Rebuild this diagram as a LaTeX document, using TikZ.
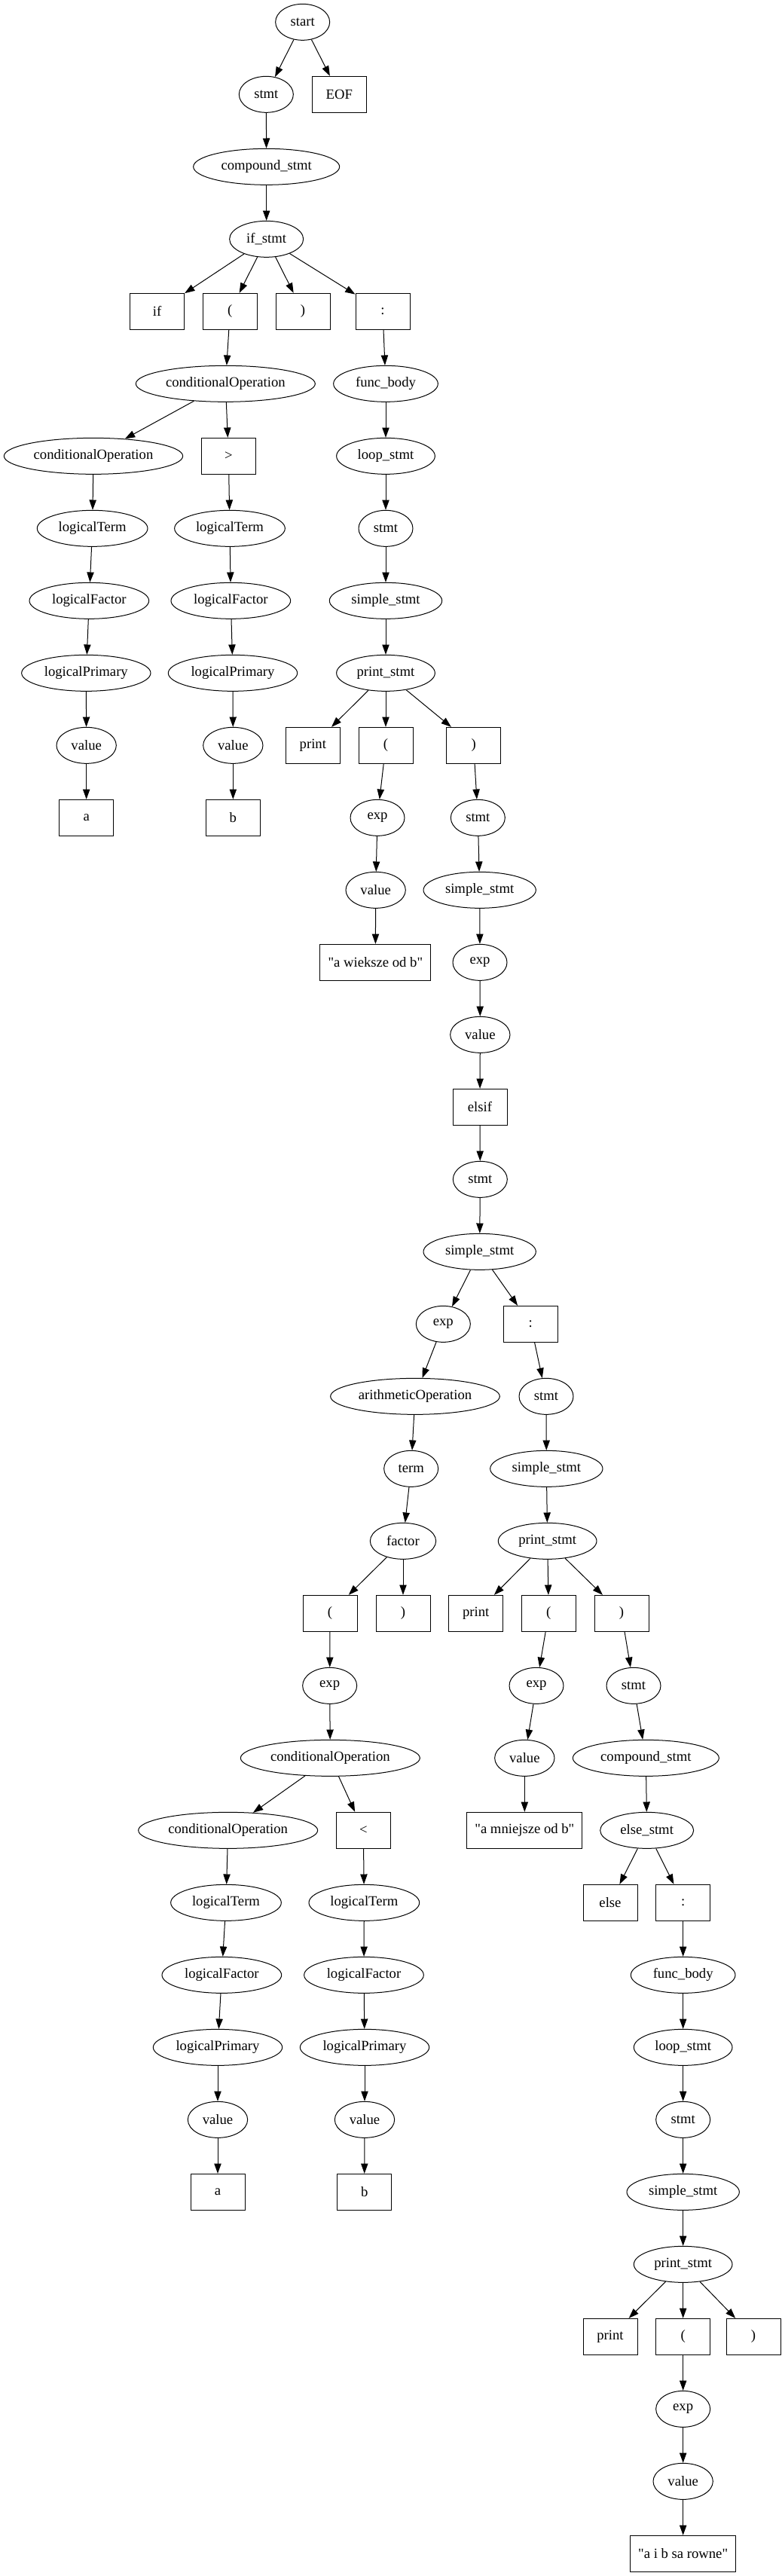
\documentclass[tikz,border=0pt]{standalone}
\usepackage{fontspec}
\setmainfont{Liberation Serif}[Ligatures=TeXOff]
\usetikzlibrary{shapes.geometric,arrows.meta}
\newcommand\gvfont{\fontsize{14}{16}\selectfont}
\tikzset{
  el/.style={draw, ellipse, minimum height=36pt, minimum width=#1, inner sep=0pt, line width=0.75pt, font=\gvfont},
  el/.default=54pt,
  bx/.style={draw, rectangle, minimum height=36pt, minimum width=54pt, inner xsep=8pt, inner ysep=0pt, line width=0.75pt, font=\gvfont},
  arr/.style={-{Triangle[length=10pt,width=7pt]}, line width=0.75pt}
}
\begin{document}
\begin{tikzpicture}[x=1pt,y=-1pt]
\useasboundingbox (0,0) rectangle (778.5,2564.25);
\fill[white] (0,0) rectangle (778.5,2564.25);
% rank 0
\node[el] (start) at (301.25,22) {start};
% rank 1
\node[el] (stmt1) at (265,94) {stmt};
\node[bx] (eof) at (337.75,94) {EOF};
% 2
\node[el=145.5pt] (cmp1) at (265.25,166) {compound\_stmt};
% 3
\node[el=73.5pt] (ifs) at (265.25,238) {if\_stmt};
% 4
\node[bx] (kif) at (156.5,310) {if};
\node[bx] (lp1) at (229,310) {(};
\node[bx] (rp1) at (301.5,310) {)};
\node[bx] (col1) at (381,310) {:};
% 5
\node[el=178.5pt] (co1) at (224.5,382) {conditionalOperation};
\node[el=104pt] (fb1) at (384,382) {func\_body};
% 6
\node[el=178pt] (co2) at (93,454) {conditionalOperation};
\node[bx] (gt) at (227.5,454) {>};
\node[el=98pt] (ls1) at (384,454) {loop\_stmt};
% 7
\node[el=110pt] (lt1) at (92,526) {logicalTerm};
\node[el=110pt] (lt2) at (228.75,526) {logicalTerm};
\node[el] (stmt2) at (384,526) {stmt};
% 8
\node[el=119pt] (lf1) at (88.75,598) {logicalFactor};
\node[el=119pt] (lf2) at (229.75,598) {logicalFactor};
\node[el=112pt] (ss1) at (384,598) {simple\_stmt};
% 9
\node[el=128.5pt] (lpr1) at (85.75,670) {logicalPrimary};
\node[el=128.5pt] (lpr2) at (231.75,670) {logicalPrimary};
\node[el=98pt] (ps1) at (384,670) {print\_stmt};
% 10
\node[el=59.5pt] (v1) at (86,742) {value};
\node[el=59.5pt] (v2) at (232,742) {value};
\node[bx] (pr1) at (311.5,742) {print};
\node[bx] (lp2) at (384,742) {(};
\node[bx] (rp2) at (471.5,742) {)};
% 11
\node[bx] (a1) at (86,814) {a};
\node[bx] (b1) at (232,814) {b};
\node[el] (exp1) at (375.75,814) {exp};
\node[el] (stmt3) at (475.75,814) {stmt};
% 12
\node[el=59.5pt] (v3) at (374,886) {value};
\node[el=112pt] (ss2) at (477.5,886) {simple\_stmt};
% 13
\node[bx] (str1) at (373.75,958) {"a wieksze od b"};
\node[el] (exp2) at (477.75,958) {exp};
% 14
\node[el=59.5pt] (v4) at (478,1030) {value};
% 15
\node[bx] (elsif) at (477.75,1102) {elsif};
% 16
\node[el] (stmt4) at (478,1174) {stmt};
% 17
\node[el=112pt] (ss3) at (477.5,1246) {simple\_stmt};
% 18
\node[el] (exp3) at (441.25,1318) {exp};
\node[bx] (col2) at (528.25,1318) {:};
% 19
\node[el=168.5pt] (ao) at (413.25,1390) {arithmeticOperation};
\node[el] (stmt5) at (543.75,1390) {stmt};
% 20
\node[el] (term) at (409.25,1462) {term};
\node[el=112pt] (ss4) at (544,1462) {simple\_stmt};
% 21
\node[el=65.5pt] (fac) at (401.25,1534) {factor};
\node[el=98pt] (ps2) at (545,1534) {print\_stmt};
% 22
\node[bx] (lp3) at (328.5,1606) {(};
\node[bx] (rp3) at (401.25,1606) {)};
\node[bx] (pr2) at (473.75,1606) {print};
\node[bx] (lp4) at (546.25,1606) {(};
\node[bx] (rp4) at (618.75,1606) {)};
% 23
\node[el] (exp4) at (328.25,1678) {exp};
\node[el] (exp5) at (534,1678) {exp};
\node[el] (stmt6) at (630.75,1678) {stmt};
% 24
\node[el=178.5pt] (co3) at (328.75,1750) {conditionalOperation};
\node[el=59.5pt] (v5) at (522.25,1750) {value};
\node[el=145.5pt] (cmp2) at (643,1750) {compound\_stmt};
% 25
\node[el=178.5pt] (co4) at (227,1822) {conditionalOperation};
\node[bx] (lt) at (361.75,1822) {<};
\node[bx] (str2) at (522.25,1822) {"a mniejsze od b"};
\node[el=93pt] (es) at (644,1822) {else\_stmt};
% 26
\node[el=110pt] (lt3) at (225,1894) {logicalTerm};
\node[el=110pt] (lt4) at (362.5,1894) {logicalTerm};
\node[bx] (kelse) at (607.5,1894) {else};
\node[bx] (col3) at (680,1894) {:};
% 27
\node[el=119pt] (lf3) at (220.75,1966) {logicalFactor};
\node[el=119pt] (lf4) at (362.25,1966) {logicalFactor};
\node[el=104pt] (fb2) at (680,1966) {func\_body};
% 28
\node[el=128.5pt] (lpr3) at (216.75,2038) {logicalPrimary};
\node[el=128.5pt] (lpr4) at (363,2038) {logicalPrimary};
\node[el=98pt] (ls2) at (680,2038) {loop\_stmt};
% 29
\node[el=59.5pt] (v6) at (216.75,2110) {value};
\node[el=59.5pt] (v7) at (363,2110) {value};
\node[el] (stmt7) at (680,2110) {stmt};
% 30
\node[bx] (a2) at (216.75,2182) {a};
\node[bx] (b2) at (362.75,2182) {b};
\node[el=112pt] (ss5) at (680,2182) {simple\_stmt};
% 31
\node[el=98pt] (ps3) at (680,2254) {print\_stmt};
% 32
\node[bx] (pr3) at (607.5,2326) {print};
\node[bx] (lp5) at (680,2326) {(};
\node[bx] (rp5) at (750,2326) {)};
% 33
\node[el] (exp6) at (680,2398) {exp};
% 34
\node[el=59.5pt] (v8) at (680,2470) {value};
% 35
\node[bx] (str3) at (680,2542) {"a i b sa rowne"};
% edges
\foreach \a/\b in {start/stmt1, start/eof, stmt1/cmp1, cmp1/ifs, ifs/kif, ifs/lp1, ifs/rp1, ifs/col1,
  lp1/co1, col1/fb1, co1/co2, co1/gt, co2/lt1, lt1/lf1, lf1/lpr1, lpr1/v1, v1/a1,
  gt/lt2, lt2/lf2, lf2/lpr2, lpr2/v2, v2/b1, fb1/ls1, ls1/stmt2, stmt2/ss1, ss1/ps1,
  ps1/pr1, ps1/lp2, ps1/rp2, lp2/exp1, exp1/v3, v3/str1, rp2/stmt3, stmt3/ss2, ss2/exp2,
  exp2/v4, v4/elsif, elsif/stmt4, stmt4/ss3, ss3/exp3, ss3/col2, exp3/ao, ao/term, term/fac,
  fac/lp3, fac/rp3, lp3/exp4, exp4/co3, co3/co4, co3/lt, co4/lt3, lt3/lf3, lf3/lpr3, lpr3/v6, v6/a2,
  lt/lt4, lt4/lf4, lf4/lpr4, lpr4/v7, v7/b2, col2/stmt5, stmt5/ss4, ss4/ps2, ps2/pr2, ps2/lp4, ps2/rp4,
  lp4/exp5, exp5/v5, v5/str2, rp4/stmt6, stmt6/cmp2, cmp2/es, es/kelse, es/col3, col3/fb2, fb2/ls2,
  ls2/stmt7, stmt7/ss5, ss5/ps3, ps3/pr3, ps3/lp5, ps3/rp5, lp5/exp6, exp6/v8, v8/str3}
  \draw[arr] (\a) -- (\b);
\end{tikzpicture}
\end{document}
